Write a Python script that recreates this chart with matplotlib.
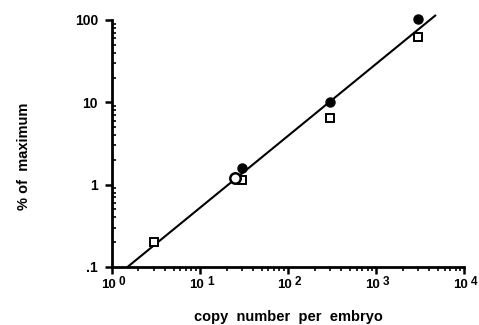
import numpy as np
import matplotlib.pyplot as plt
from matplotlib.ticker import FixedLocator, FixedFormatter, LogLocator, NullFormatter

# data
sq_x = [3, 30, 300, 3000]
sq_y = [0.2, 1.15, 6.5, 63]
dot_x = [30, 300, 3000]
dot_y = [1.6, 10, 102]
open_x = [25]
open_y = [1.2]
fit_x = [1.5, 4700]
fit_y = [0.1, 113]

xticks = [1, 10, 100, 1000, 10000]
xexps = ['0', '1', '2', '3', '4']
yticks = [0.1, 1, 10, 100]
ylabels = ['.1', '1', '10', '100']

plt.rcParams['font.family'] = ['Liberation Sans', 'DejaVu Sans']

fig = plt.figure(figsize=(4.79, 3.25), dpi=100)
ax = fig.add_axes([0.2338, 0.1785, 0.735, 0.76])

ax.plot(fit_x, fit_y, color='black', lw=1.5, zorder=2, clip_on=False)
ax.plot(sq_x, sq_y, 's', ms=5.5, mfc='white', mec='black', mew=1.4, zorder=3, clip_on=False)
ax.plot(dot_x, dot_y, 'o', ms=6.5, color='black', zorder=3, clip_on=False)
ax.plot(open_x, open_y, 'o', ms=7.5, mfc='white', mec='black', mew=1.8, zorder=4, clip_on=False)

ax.set_xscale('log')
ax.set_yscale('log')
ax.set_xlim(1, 10000)
ax.set_ylim(0.1, 100)

ax.xaxis.set_major_locator(FixedLocator(xticks))
ax.xaxis.set_major_formatter(NullFormatter())
ax.yaxis.set_major_locator(FixedLocator(yticks))
ax.yaxis.set_major_formatter(FixedFormatter(ylabels))
ax.xaxis.set_minor_locator(LogLocator(base=10, subs=np.arange(2, 10)))
ax.yaxis.set_minor_locator(LogLocator(base=10, subs=np.arange(2, 10)))
ax.xaxis.set_minor_formatter(NullFormatter())
ax.yaxis.set_minor_formatter(NullFormatter())

# x tick labels drawn as "10" with a raised exponent
for t, e in zip(xticks, xexps):
    ax.annotate('10', xy=(t, 0), xycoords=('data', 'axes fraction'),
                xytext=(-2.5, -9), textcoords='offset points',
                ha='center', va='top', fontsize=9.5, fontweight='bold')
    ax.annotate(e, xy=(t, 0), xycoords=('data', 'axes fraction'),
                xytext=(5, -6.5), textcoords='offset points',
                ha='left', va='top', fontsize=8.5, fontweight='bold')

for s in ['top', 'right']:
    ax.spines[s].set_visible(False)
for s in ['left', 'bottom']:
    ax.spines[s].set_linewidth(2)

ax.tick_params(which='major', direction='out', length=5, width=1.8, labelsize=10)
ax.tick_params(which='minor', direction='out', length=3, width=1.2)
ax.tick_params(axis='y', which='minor', direction='in')
ax.tick_params(axis='y', which='major', pad=5)
for lab in ax.get_yticklabels():
    lab.set_fontweight('bold')

ax.set_xlabel('copy  number  per  embryo', fontsize=10.5, fontweight='bold')
ax.xaxis.set_label_coords(0.5, -0.175)
ax.set_ylabel('% of  maximum', fontsize=10.5, fontweight='bold')
ax.yaxis.set_label_coords(-0.23, 0.45)

fig.savefig('out.png', dpi=100)
